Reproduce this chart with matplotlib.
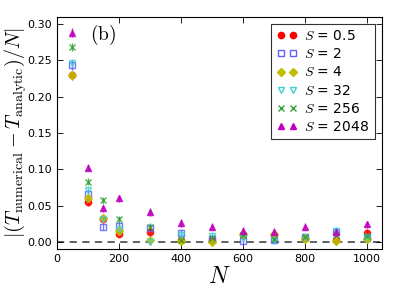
import numpy as np
import matplotlib
matplotlib.use('Agg')
import matplotlib.pyplot as plt
from matplotlib.lines import Line2D

plt.rcParams['mathtext.fontset'] = 'cm'

N = [50, 100, 150, 200, 300, 400, 500, 600, 700, 800, 900, 1000]

s_labels = ['0.5', '2', '4', '32', '256', '2048']
err_s05 = [0.229, 0.055, 0.031, 0.011, 0.013, 0.002, 0.002, 0.010, 0.010, 0.005, 0.002, 0.012]
err_s2 = [0.243, 0.066, 0.021, 0.022, 0.019, 0.012, 0.004, 0.001, 0.003, 0.006, 0.013, 0.005]
err_s4 = [0.229, 0.060, 0.033, 0.015, 0.002, 0.001, 0.000, 0.011, 0.011, 0.004, 0.001, 0.004]
err_s32 = [0.246, 0.071, 0.031, 0.017, 0.000, 0.010, 0.008, 0.005, 0.002, 0.006, 0.015, 0.006]
err_s256 = [0.268, 0.083, 0.057, 0.031, 0.021, 0.003, 0.005, 0.009, 0.004, 0.006, 0.010, 0.008]
err_s2048 = [0.288, 0.102, 0.046, 0.060, 0.041, 0.026, 0.021, 0.015, 0.014, 0.021, 0.013, 0.024]
bar_size = [0.006, 0.005, 0.005, 0.005, 0.005, 0.005, 0.005, 0.005, 0.005, 0.005, 0.006, 0.005]

series = [err_s05, err_s2, err_s4, err_s32, err_s256, err_s2048]
styles = [
    dict(marker='o', color='#ff0000', mfc='#ff0000', ms=4.5),
    dict(marker='s', color='#6060ff', mfc='none', ms=4.5),
    dict(marker='D', color='#bfbf00', mfc='#bfbf00', ms=4.5),
    dict(marker='v', color='#40d0d0', mfc='none', ms=5),
    dict(marker='x', color='#30a030', mfc='none', ms=5),
    dict(marker='^', color='#c000c0', mfc='#c000c0', ms=5),
]

fig = plt.figure(figsize=(4.07, 2.91), dpi=100)
ax = fig.add_axes([0.140, 0.144, 0.799, 0.799])

ax.axhline(0, color='#555555', ls='--', lw=1.3, dashes=(4, 3), zorder=1)

handles = []
for vals, lab, st in zip(series, s_labels, styles):
    ax.errorbar(N, vals, yerr=bar_size, fmt=st['marker'], color=st['color'],
                mfc=st['mfc'], mec=st['color'], ms=st['ms'], mew=1.0,
                ecolor=st['color'], elinewidth=1.0, alpha=0.85, zorder=3)
    handles.append(Line2D([], [], ls='none', marker=st['marker'], color=st['color'],
                          mfc=st['mfc'], mec=st['color'], ms=st['ms'], mew=1.0,
                          label=r'$S$ = ' + lab))

ax.set_xlim(0, 1050)
ax.set_ylim(-0.01, 0.31)
ax.set_xticks([0, 200, 400, 600, 800, 1000])
ax.set_yticks([0.0, 0.05, 0.10, 0.15, 0.20, 0.25, 0.30])
ax.yaxis.set_major_formatter(matplotlib.ticker.FormatStrFormatter('%.2f'))
ax.tick_params(direction='in', top=True, right=True, labelsize=8, length=4, width=0.6)

ax.set_xlabel(r'$N$', fontsize=17, labelpad=0)
ax.set_ylabel(r'$|(T_{\rm numerical}-T_{\rm analytic})/N|$', fontsize=14.5, labelpad=-1)
ax.text(150, 0.285, r'$\mathrm{(b)}$', fontsize=14, ha='center', va='center')

leg = ax.legend(handles=handles, loc='upper right', numpoints=2, fontsize=10,
                frameon=True, fancybox=False, handlelength=1.5, labelspacing=0.3,
                borderpad=0.4, handletextpad=0.5, borderaxespad=0.5)
leg.get_frame().set_edgecolor('black')
leg.get_frame().set_linewidth(0.8)

fig.savefig('out.png', dpi=100)
